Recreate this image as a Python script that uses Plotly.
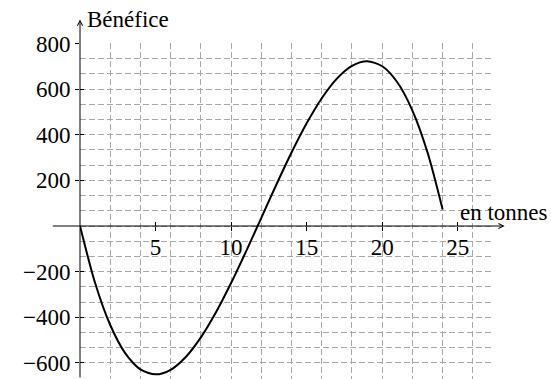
import plotly.graph_objects as go

# Data
tonnes = list(range(0, 25))
benefice = [0, -250, -434, -558, -628, -650, -630, -574, -488, -378, -250, -110,
            36, 182, 322, 450, 560, 646, 702, 722, 700, 630, 506, 322, 72]

x_tick_vals = [5, 10, 15, 20, 25]
x_tick_text = ["5", "10", "15", "20", "25"]
y_tick_vals = [-600, -400, -200, 200, 400, 600, 800]
y_tick_text = ["\u2212600", "\u2212400", "\u2212200", "200", "400", "600", "800"]

XR = [0, 27.2]
YR = [-670.5, 802]
FONT = "Liberation Serif"
FS = 23
GRID = "#a8a8a8"

W, H = 551, 379
ML, MR, MT, MB = 80, 60, 43, 0
PW = W - ML - MR
PH = H - MT - MB
xpx = PW / (XR[1] - XR[0])
ypx = PH / (YR[1] - YR[0])


def xpaper(v):
    return (v - XR[0]) / (XR[1] - XR[0])


def ypaper(v):
    return (v - YR[0]) / (YR[1] - YR[0])


fig = go.Figure()
fig.add_trace(go.Scatter(x=tonnes, y=benefice, mode="lines",
                         line=dict(color="black", width=2, shape="spline", smoothing=0.8),
                         showlegend=False, hoverinfo="skip"))
fig.add_trace(go.Scatter(x=[], y=[], xaxis="x2", yaxis="y2", showlegend=False))
fig.add_trace(go.Scatter(x=[], y=[], xaxis="x3", yaxis="y3", showlegend=False))

tick_common = dict(tickcolor="black", tickwidth=1, showgrid=False, zeroline=False,
                   showline=False, automargin=False, fixedrange=True)

fig.update_layout(
    width=W, height=H,
    margin=dict(l=ML, r=MR, t=MT, b=MB, autoexpand=False),
    paper_bgcolor="white", plot_bgcolor="white",
    font=dict(family=FONT, size=FS, color="black"),
    xaxis=dict(range=XR, dtick=2, tick0=0, showgrid=True, gridcolor=GRID, gridwidth=1,
               griddash="6px,3px", showticklabels=False, ticks="", zeroline=False,
               showline=False, fixedrange=True, automargin=False),
    yaxis=dict(range=YR, dtick=200 / 3, tick0=0, showgrid=True, gridcolor=GRID, gridwidth=1,
               griddash="6px,3px", showticklabels=False, ticks="", zeroline=False,
               showline=False, fixedrange=True, automargin=False),
    xaxis2=dict(range=XR, overlaying="x", anchor="free", position=ypaper(0),
                tickvals=x_tick_vals, ticktext=x_tick_text, ticks="outside", ticklen=4,
                ticklabelstandoff=-4,
                tickfont=dict(family=FONT, size=FS, color="black"), **tick_common),
    yaxis2=dict(range=YR, overlaying="y", anchor="x", side="left",
                tickvals=y_tick_vals, ticktext=y_tick_text, ticks="outside", ticklen=4,
                tickfont=dict(family=FONT, size=FS, color="black"), **tick_common),
    xaxis3=dict(range=XR, overlaying="x", anchor="free", position=ypaper(0),
                tickvals=x_tick_vals, ticks="inside", ticklen=4, showticklabels=False,
                **tick_common),
    yaxis3=dict(range=YR, overlaying="y", anchor="x", side="left",
                tickvals=y_tick_vals, ticks="inside", ticklen=4, showticklabels=False,
                **tick_common),
)

# axis lines with arrows (tail offsets in pixels)
x_start, x_end = -1.9, 28.1
y_top = 905
fig.add_annotation(x=xpaper(x_end), y=0, xref="paper", yref="y",
                   ax=-(x_end - x_start) * xpx, ay=0,
                   text="", showarrow=True, arrowhead=5, arrowsize=1, arrowwidth=1,
                   arrowcolor="black", standoff=0, startstandoff=0)
fig.add_annotation(x=0, y=ypaper(y_top), xref="x", yref="paper",
                   ax=0, ay=(y_top - YR[0]) * ypx + 2,
                   text="", showarrow=True, arrowhead=5, arrowsize=1, arrowwidth=1,
                   arrowcolor="black", standoff=0, startstandoff=0)

fig.add_annotation(x=0.35, y=ypaper(y_top), xref="x", yref="paper", text="Bénéfice",
                   showarrow=False, xanchor="left", yanchor="middle",
                   font=dict(family=FONT, size=23))
fig.add_annotation(x=xpaper(25.0), y=60, xref="paper", yref="y", text="en tonnes",
                   showarrow=False, xanchor="left", yanchor="middle",
                   font=dict(family=FONT, size=23))

fig.write_html("out.html", post_script="document.body.style.margin='0';",
               config={"displayModeBar": False, "staticPlot": True})
